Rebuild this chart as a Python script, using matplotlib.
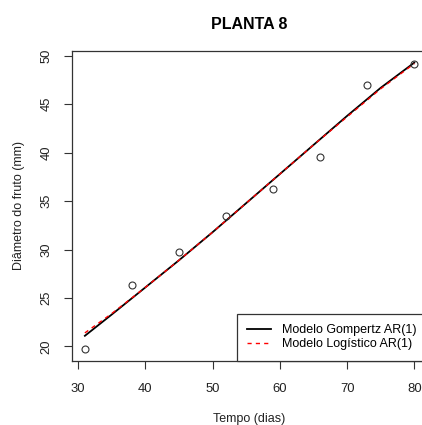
import matplotlib
matplotlib.use("Agg")
import matplotlib.pyplot as plt

plt.rcParams['font.family'] = ['Liberation Sans', 'DejaVu Sans']

# Observed fruit diameter (mm) by day
dias_obs = [31, 38, 45, 52, 59, 66, 73, 80]
diametro_obs = [19.7, 26.3, 29.8, 33.5, 36.3, 39.6, 47.0, 49.2]

# Fitted curves
dias_ajuste = [31, 35, 40, 45, 50, 55, 60, 65, 70, 75, 80]
gompertz_ar1 = [21.1, 23.3, 26.1, 28.9, 31.8, 34.8, 37.8, 40.8, 43.8, 46.7, 49.3]
logistico_ar1 = [21.4, 23.4, 26.1, 28.9, 31.8, 34.8, 37.8, 40.8, 43.7, 46.6, 49.2]

xticks = [30, 40, 50, 60, 70, 80]
yticks = [20, 25, 30, 35, 40, 45, 50]

W, H = 422, 425
fig = plt.figure(figsize=(W / 100, H / 100), dpi=100)
ax_l, ax_r, ax_t, ax_b = 71.7, 427.5, 51.0, 361.0
ax = fig.add_axes([ax_l / W, (H - ax_b) / H, (ax_r - ax_l) / W, (ax_b - ax_t) / H])

ax.plot(dias_obs, diametro_obs, linestyle='none', marker='o', ms=5,
        mfc='none', mec='#333333', mew=0.8, zorder=3)
ax.plot(dias_ajuste, gompertz_ar1, color='black', lw=1.3,
        label='Modelo Gompertz AR(1)', zorder=2)
ax.plot(dias_ajuste, logistico_ar1, color='red', lw=1.0, ls=(0, (3, 3)),
        label='Modelo Logístico AR(1)', zorder=2.5)

ax.set_xlim(29.04, 81.96)
ax.set_ylim(18.5, 50.5)
ax.set_xticks(xticks)
ax.set_yticks(yticks)
ax.tick_params(axis='both', direction='out', length=5.8, width=0.8,
               labelsize=9.4, color='#333333', labelcolor='#222222')
ax.tick_params(axis='x', pad=10)
ax.tick_params(axis='y', pad=8)
for lbl in ax.get_yticklabels():
    lbl.set_rotation(90)
    lbl.set_va('center')
for s in ax.spines.values():
    s.set_color('#333333')
    s.set_linewidth(0.9)

ax.set_title('PLANTA 8', fontsize=11.5, fontweight='bold', pad=16)
ax.set_xlabel('Tempo (dias)', fontsize=9, color='#222222')
ax.set_ylabel('Diâmetro do fruto (mm)', fontsize=9, color='#222222')
ax.xaxis.set_label_coords(0.5, -(413 - ax_b) / (ax_b - ax_t))
ax.yaxis.set_label_coords(-(ax_l - 25) / (ax_r - ax_l), 0.5)

leg = ax.legend(loc='lower right', bbox_to_anchor=(1, 0), borderaxespad=0,
                fontsize=9, frameon=True, fancybox=False, framealpha=1,
                edgecolor='#333333', handlelength=1.9, handletextpad=0.9,
                borderpad=0.85, labelspacing=0.15)
leg.get_frame().set_linewidth(0.9)

fig.savefig('out.png', dpi=100)
